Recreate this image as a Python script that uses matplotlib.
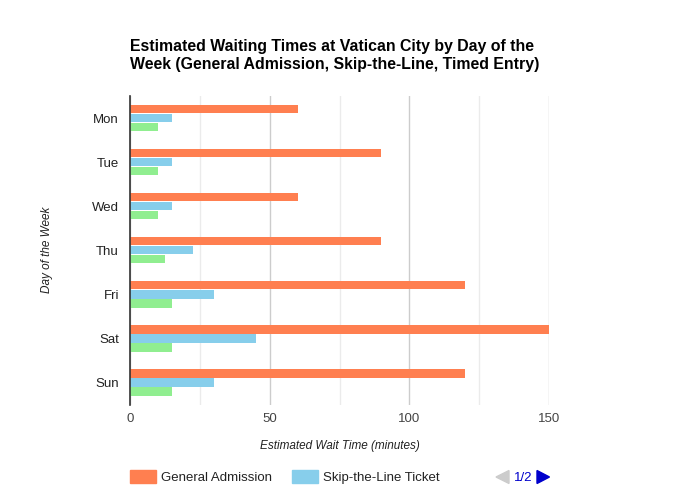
import matplotlib
matplotlib.use("Agg")
import matplotlib.pyplot as plt
import numpy as np
from matplotlib.patches import Rectangle, Polygon

plt.rcParams['font.family'] = ['Liberation Sans', 'DejaVu Sans']

days = ["Mon", "Tue", "Wed", "Thu", "Fri", "Sat", "Sun"]
general = [60, 90, 60, 90, 120, 150, 120]
skip_line = [15, 15, 15, 22.5, 30, 45, 30]
timed = [10, 10, 10, 12.5, 15, 15, 15]
series_names = ["General Admission", "Skip-the-Line Ticket", "Timed Entry"]
colors = ["#FF7F50", "#87CEEB", "#90EE90"]
x_ticks = [0, 50, 100, 150]
x_minor = [25, 75, 125]

W, H = 680, 500
fig = plt.figure(figsize=(6.8, 5.0), dpi=100)
ax = fig.add_axes([130 / W, 1 - 404.5 / H, (549 - 130) / W, (404.5 - 96) / H])

y = np.arange(len(days))
bh = 0.19
step = 0.205
for i, (vals, c) in enumerate(zip([general, skip_line, timed], colors)):
    ax.barh(y + (i - 1) * step, vals, height=bh, color=c, zorder=3)

ax.set_ylim(len(days) - 0.5, -0.5)
ax.set_xlim(0, 150)
ax.set_xticks(x_ticks)
ax.set_xticks(x_minor, minor=True)
ax.set_xticklabels([str(t) for t in x_ticks], fontsize=9.5, color="#444444")
ax.set_yticks(y)
ax.set_yticklabels(days, fontsize=9.5, color="#222222")
ax.tick_params(axis="both", which="both", length=0)
ax.tick_params(axis="x", pad=6)
ax.tick_params(axis="y", pad=8)
ax.grid(axis="x", which="major", color="#cccccc", linewidth=1, zorder=0)
ax.grid(axis="x", which="minor", color="#ebebeb", linewidth=1, zorder=0)
for s in ["top", "right", "bottom"]:
    ax.spines[s].set_visible(False)
ax.spines["left"].set_color("#333333")
ax.spines["left"].set_linewidth(1.2)
ax.spines["left"].set_zorder(4)

fig.text(130 / W, 1 - 39 / H,
         "Estimated Waiting Times at Vatican City by Day of the\nWeek (General Admission, Skip-the-Line, Timed Entry)",
         fontsize=11.4, fontweight="bold", ha="left", va="top", linespacing=1.28, color="#000000")

fig.text(340 / W, 1 - 446 / H, "Estimated Wait Time (minutes)", fontsize=8.5,
         style="italic", ha="center", va="center", color="#222222")
fig.text(47 / W, 1 - 250 / H, "Day of the Week", fontsize=8.5, style="italic",
         rotation=90, ha="center", va="center", color="#222222")

# Legend (page 1 of 2)
leg_items = [(130, 161), (292, 323)]
for (sx, tx), name, c in zip(leg_items, series_names[:2], colors[:2]):
    fig.patches.append(Rectangle((sx / W, 1 - 483 / H), 26 / W, 13 / H,
                                 transform=fig.transFigure, color=c))
    fig.text(tx / W, 1 - 481 / H, name, fontsize=9.5, ha="left", va="baseline", color="#222222")

def fpt(px, py):
    return (px / W, 1 - py / H)

fig.patches.append(Polygon([fpt(496, 477), fpt(509, 470.5), fpt(509, 483.5)],
                           closed=True, transform=fig.transFigure, color="#cccccc"))
fig.patches.append(Polygon([fpt(537, 470.5), fpt(549.5, 477), fpt(537, 483.5)],
                           closed=True, transform=fig.transFigure, color="#0000cc"))
fig.text(523 / W, 1 - 481 / H, "1/2", fontsize=9.5, ha="center", va="baseline", color="#0000cc")

fig.savefig("out.png", dpi=100)
